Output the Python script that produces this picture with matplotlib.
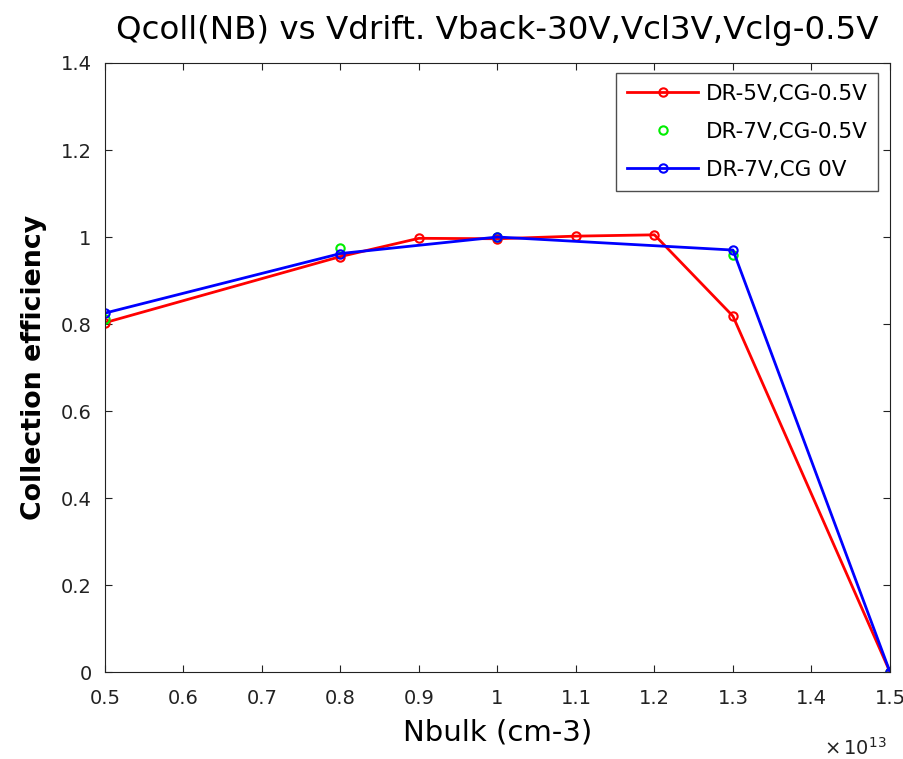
"""Collection efficiency vs bulk doping, three bias settings."""

import matplotlib

matplotlib.use("Agg")
import matplotlib.pyplot as plt  # noqa: E402
from matplotlib.ticker import FuncFormatter, MultipleLocator  # noqa: E402

plt.rcParams["font.family"] = ["DejaVu Sans"]

# bulk doping (cm-3)
nb_red = [0.5e13, 0.8e13, 0.9e13, 1.0e13, 1.1e13, 1.2e13, 1.3e13, 1.5e13]
eff_red = [0.803, 0.955, 0.997, 0.996, 1.002, 1.005, 0.818, 0.0]

nb_green = [0.5e13, 0.8e13, 1.0e13, 1.3e13, 1.5e13]
eff_green = [0.812, 0.975, 1.0, 0.958, 0.0]

nb_blue = [0.5e13, 0.8e13, 1.0e13, 1.3e13, 1.5e13]
eff_blue = [0.825, 0.962, 1.0, 0.970, 0.0]

fig = plt.figure(figsize=(9.04, 7.59), dpi=100)
ax = fig.add_axes([0.116, 0.1146, 0.8685, 0.8024])

ax.plot(nb_red, eff_red, "-o", color="red", lw=2, ms=6, mfc="none", mew=1.5,
        label="DR-5V,CG-0.5V")
ax.plot(nb_green, eff_green, "o", color="#00ee00", ms=6, mfc="none", mew=1.5,
        label="DR-7V,CG-0.5V")
ax.plot(nb_blue, eff_blue, "-o", color="blue", lw=2, ms=6, mfc="none", mew=1.5,
        label="DR-7V,CG 0V")

ax.set_xlim(0.5e13, 1.5e13)
ax.set_ylim(0, 1.4)
ax.xaxis.set_major_locator(MultipleLocator(0.1e13))
ax.yaxis.set_major_locator(MultipleLocator(0.2))
ax.xaxis.set_major_formatter(FuncFormatter(lambda v, _: f"{v / 1e13:g}"))
ax.yaxis.set_major_formatter(FuncFormatter(lambda v, _: f"{v:g}"))
ax.tick_params(direction="in", top=True, right=True, length=5, labelsize=14,
               colors="#222222")
ax.tick_params(axis="x", pad=12)
ax.tick_params(axis="y", pad=9.5)
for spine in ax.spines.values():
    spine.set_color("#222222")

ax.set_title("Qcoll(NB) vs Vdrift. Vback-30V,Vcl3V,Vclg-0.5V", fontsize=23.4, pad=17)
ax.set_xlabel("Nbulk (cm-3)", fontsize=21, va="top")
ax.xaxis.set_label_coords(0.5, -0.076)
ax.set_ylabel("Collection efficiency", fontsize=19.3, fontweight="bold")
ax.yaxis.set_label_coords(-0.074, 0.5)
ax.text(0.996, -0.136, r"$\times\,10^{13}$", transform=ax.transAxes, ha="right",
        va="baseline", fontsize=14, color="#222222")

leg = ax.legend(loc="upper right", fontsize=15.5, frameon=True, fancybox=False,
                borderpad=0.5, labelspacing=0.84, handlelength=3.3,
                handletextpad=0.35, borderaxespad=0,
                bbox_to_anchor=(0.985, 0.9836))
leg.get_frame().set_edgecolor("#222222")
leg.get_frame().set_linewidth(1.0)

fig.savefig("out.png", dpi=100)
